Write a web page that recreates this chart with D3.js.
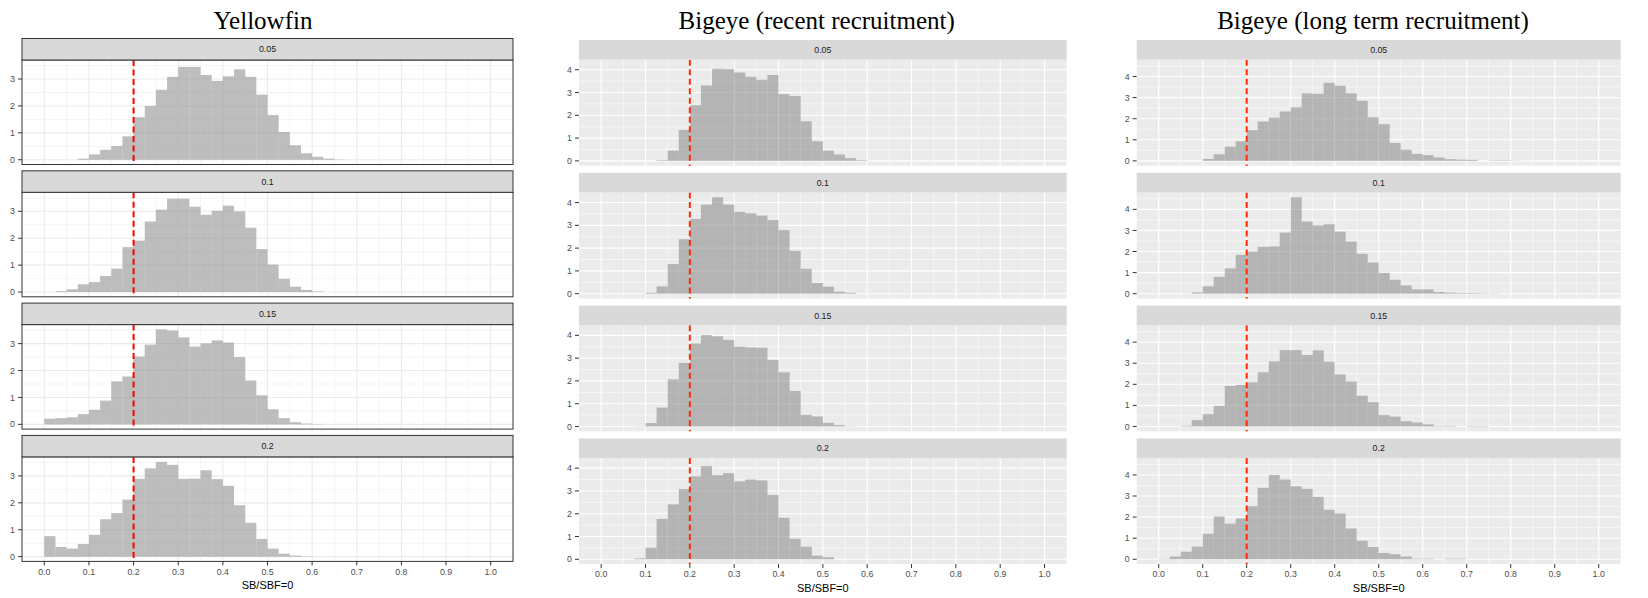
<!DOCTYPE html>
<html><head><meta charset="utf-8">
<script src="https://cdn.jsdelivr.net/npm/d3@7"></script>
<style>body{margin:0;background:#fff} svg{display:block}</style>
</head><body><svg id="c" width="1648" height="598"></svg>
<script>
// ---------------- DATA ----------------
const speciesTitles = ["Yellowfin", "Bigeye (recent recruitment)", "Bigeye (long term recruitment)"];
const facetLabels = ["0.05", "0.1", "0.15", "0.2"];
const binWidth = 0.025;
const refLine = 0.2;
const xTicks = [0, 0.1, 0.2, 0.3, 0.4, 0.5, 0.6, 0.7, 0.8, 0.9, 1.0];
const xTickLabels = ["0.0","0.1","0.2","0.3","0.4","0.5","0.6","0.7","0.8","0.9","1.0"];
const xLabel = "SB/SBF=0";

// first bin start (left edge) of each facet
const yellowfinStarts = [0.075, 0.025, 0.0, 0.0];
const yellowfin005 = [0.04,0.2,0.37,0.51,0.87,1.58,2.0,2.6,3.08,3.45,3.45,3.15,2.93,3.1,3.36,3.08,2.42,1.66,1.03,0.54,0.24,0.11,0.04,0.01];
const yellowfin01  = [0.03,0.1,0.29,0.37,0.6,0.87,1.67,1.91,2.62,3.06,3.47,3.47,3.17,2.87,3.02,3.21,3.0,2.39,1.6,1.02,0.49,0.2,0.08,0.02];
const yellowfin015 = [0.21,0.23,0.26,0.38,0.54,0.88,1.6,1.78,2.52,2.96,3.53,3.49,3.23,2.89,3.01,3.12,3.04,2.5,1.63,1.08,0.56,0.23,0.08,0.03,0.01];
const yellowfin02  = [0.76,0.36,0.30,0.47,0.81,1.39,1.62,2.12,2.89,3.28,3.52,3.41,2.89,2.9,3.21,2.88,2.63,1.91,1.26,0.66,0.3,0.11,0.04,0.01];

const bigeyeRecentStarts = [0.125, 0.1, 0.075, 0.075];
const bigeyeRecent005 = [0.03,0.45,1.36,2.44,3.31,4.04,4.03,3.88,3.69,3.56,3.77,2.93,2.85,1.74,0.86,0.45,0.28,0.12,0.03];
const bigeyeRecent01  = [0.04,0.32,1.3,2.39,3.28,3.91,4.23,3.91,3.59,3.53,3.43,3.23,2.79,1.88,1.09,0.47,0.31,0.09,0.04];
const bigeyeRecent015 = [0.01,0.15,0.83,2.07,2.79,3.64,4.01,3.96,3.8,3.5,3.47,3.46,2.92,2.38,1.56,0.51,0.44,0.16,0.06,0.01];
const bigeyeRecent02  = [0.04,0.51,1.77,2.41,3.08,3.64,4.09,3.69,3.78,3.42,3.5,3.46,2.82,1.82,0.9,0.55,0.16,0.09];

const bigeyeLongStarts = [0.1, 0.075, 0.05, 0.0];
const bigeyeLong005 = [0.09,0.31,0.67,0.93,1.46,1.87,2.05,2.34,2.54,3.2,3.18,3.7,3.56,3.2,2.85,2.07,1.74,0.85,0.53,0.33,0.27,0.16,0.08,0.06,0.05,0.0,0.02,0.02,0.01];
const bigeyeLong01  = [0.06,0.35,0.8,1.2,1.84,2.0,2.22,2.24,2.9,4.57,3.42,3.23,3.29,2.94,2.47,1.89,1.48,0.99,0.66,0.39,0.2,0.2,0.08,0.05,0.03,0.03,0.02,0.01];
const bigeyeLong015 = [0.03,0.3,0.58,0.98,1.92,1.97,2.09,2.57,3.09,3.62,3.62,3.39,3.61,3.07,2.47,2.13,1.46,1.15,0.54,0.47,0.25,0.19,0.1,0.02,0.03,0.0,0.02,0.02];
const bigeyeLong02  = [0.02,0.13,0.36,0.6,1.21,2.03,1.69,1.94,2.52,3.39,4.0,3.78,3.46,3.34,2.96,2.35,2.17,1.46,0.88,0.58,0.3,0.24,0.13,0.03,0.03,0.0,0.03,0.03];

// ---------------- BUILD ----------------
const species = [
  {title: speciesTitles[0], starts: yellowfinStarts, series: [yellowfin005, yellowfin01, yellowfin015, yellowfin02]},
  {title: speciesTitles[1], starts: bigeyeRecentStarts, series: [bigeyeRecent005, bigeyeRecent01, bigeyeRecent015, bigeyeRecent02]},
  {title: speciesTitles[2], starts: bigeyeLongStarts, series: [bigeyeLong005, bigeyeLong01, bigeyeLong015, bigeyeLong02]}
];

const layouts = [
  {px0: 22, px1: 513, top: 38.5, stripH: 21.5, panelH: 104.5, step: 132.3, bw: true, titleX: 263, lineCol: "#FF0000"},
  {px0: 579, px1: 1066.7, top: 40, stripH: 19.7, panelH: 106, step: 132.8, bw: false, titleX: 816.7, lineCol: "#FF2A00"},
  {px0: 1136.7, px1: 1620.7, top: 40, stripH: 19.7, panelH: 106, step: 132.8, bw: false, titleX: 1373, lineCol: "#FF2A00"}
];

const svg = d3.select("#c");
const sansFont = "'Liberation Sans', Arial, Helvetica, sans-serif";
const serifFont = "'Liberation Serif', 'Times New Roman', serif";

species.forEach((sp, si) => {
  const L = layouts[si];
  const g = svg.append("g");
  const x = d3.scaleLinear().domain([-0.05, 1.05]).range([L.px0, L.px1]);
  const M = d3.max(sp.series.flat());
  const gridCol = L.bw ? "#EBEBEB" : "#FFFFFF";
  const xMinor = d3.range(0, 10).map(i => 0.05 + i * 0.1);
  let lastBot = 0;

  sp.series.forEach((vals, fi) => {
    const stripTop = L.top + fi * L.step;
    const pTop = stripTop + L.stripH;
    const pBot = pTop + L.panelH;
    lastBot = pBot;
    const y = d3.scaleLinear().domain([-0.05 * M, 1.05 * M]).range([pBot, pTop]);
    const yMax = 1.05 * M;
    const yMajor = d3.range(0, Math.floor(yMax) + 1);
    const yMinor = yMajor.map(v => v + 0.5).filter(v => v < yMax);

    const f = g.append("g");
    // panel background
    f.append("rect").attr("x", L.px0).attr("y", pTop).attr("width", L.px1 - L.px0).attr("height", L.panelH)
      .attr("fill", L.bw ? "#FFFFFF" : "#EBEBEB");
    // minor grid
    f.selectAll(null).data(xMinor).join("line")
      .attr("x1", d => x(d)).attr("x2", d => x(d)).attr("y1", pTop).attr("y2", pBot)
      .attr("stroke", gridCol).attr("stroke-width", 0.55);
    f.selectAll(null).data(yMinor).join("line")
      .attr("x1", L.px0).attr("x2", L.px1).attr("y1", d => y(d)).attr("y2", d => y(d))
      .attr("stroke", gridCol).attr("stroke-width", 0.55);
    // major grid
    f.selectAll(null).data(xTicks).join("line")
      .attr("x1", d => x(d)).attr("x2", d => x(d)).attr("y1", pTop).attr("y2", pBot)
      .attr("stroke", gridCol).attr("stroke-width", 1.1);
    f.selectAll(null).data(yMajor).join("line")
      .attr("x1", L.px0).attr("x2", L.px1).attr("y1", d => y(d)).attr("y2", d => y(d))
      .attr("stroke", gridCol).attr("stroke-width", 1.1);

    // histogram bars
    const bins = vals.map((v, i) => ({x0: sp.starts[fi] + i * binWidth, v: v})).filter(b => b.v > 0);
    f.selectAll(null).data(bins).join("rect")
      .attr("x", d => x(d.x0)).attr("width", d => x(d.x0 + binWidth) - x(d.x0))
      .attr("y", d => y(d.v)).attr("height", d => y(0) - y(d.v))
      .attr("fill", "#878787").attr("fill-opacity", 0.55);

    // reference line
    f.append("line").attr("x1", x(refLine)).attr("x2", x(refLine)).attr("y1", pTop).attr("y2", pBot)
      .attr("stroke", L.lineCol).attr("stroke-width", 2).attr("stroke-dasharray", "6,3.5");

    // panel border (bw)
    if (L.bw) {
      f.append("rect").attr("x", L.px0).attr("y", pTop).attr("width", L.px1 - L.px0).attr("height", L.panelH)
        .attr("fill", "none").attr("stroke", "#333333").attr("stroke-width", 1);
    }
    // strip
    f.append("rect").attr("x", L.px0).attr("y", stripTop).attr("width", L.px1 - L.px0).attr("height", L.stripH)
      .attr("fill", "#D9D9D9").attr("stroke", L.bw ? "#333333" : "none").attr("stroke-width", 1);
    f.append("text").attr("x", (L.px0 + L.px1) / 2).attr("y", stripTop + L.stripH / 2).attr("dy", "0.36em")
      .attr("text-anchor", "middle").attr("font-family", sansFont).attr("font-size", 8.8)
      .attr("fill", "#1A1A1A").text(facetLabels[fi]);

    // y axis
    f.selectAll(null).data(yMajor).join("line")
      .attr("x1", L.px0 - 4).attr("x2", L.px0).attr("y1", d => y(d)).attr("y2", d => y(d))
      .attr("stroke", "#333333").attr("stroke-width", 1);
    f.selectAll(null).data(yMajor).join("text")
      .attr("x", L.px0 - 7).attr("y", d => y(d)).attr("dy", "0.35em").attr("text-anchor", "end")
      .attr("font-family", sansFont).attr("font-size", 8.8).attr("fill", "#4D4D4D").text(d => d);

    // x axis only on bottom facet
    if (fi === sp.series.length - 1) {
      f.selectAll(null).data(xTicks).join("line")
        .attr("x1", d => x(d)).attr("x2", d => x(d)).attr("y1", pBot).attr("y2", pBot + 4)
        .attr("stroke", "#333333").attr("stroke-width", 1);
      f.selectAll(null).data(xTicks).join("text")
        .attr("x", d => x(d)).attr("y", pBot + 13.2).attr("text-anchor", "middle")
        .attr("font-family", sansFont).attr("font-size", 8.8).attr("fill", "#4D4D4D")
        .text((d, i) => xTickLabels[i]);
    }
  });

  // x label
  g.append("text").attr("x", (L.px0 + L.px1) / 2).attr("y", lastBot + 27.5).attr("text-anchor", "middle")
    .attr("font-family", sansFont).attr("font-size", 11).attr("fill", "#000").text(xLabel);
  // title
  g.append("text").attr("x", L.titleX).attr("y", 29).attr("text-anchor", "middle")
    .attr("font-family", serifFont).attr("font-size", 25).attr("fill", "#000").text(sp.title);
});
</script>
</body></html>
